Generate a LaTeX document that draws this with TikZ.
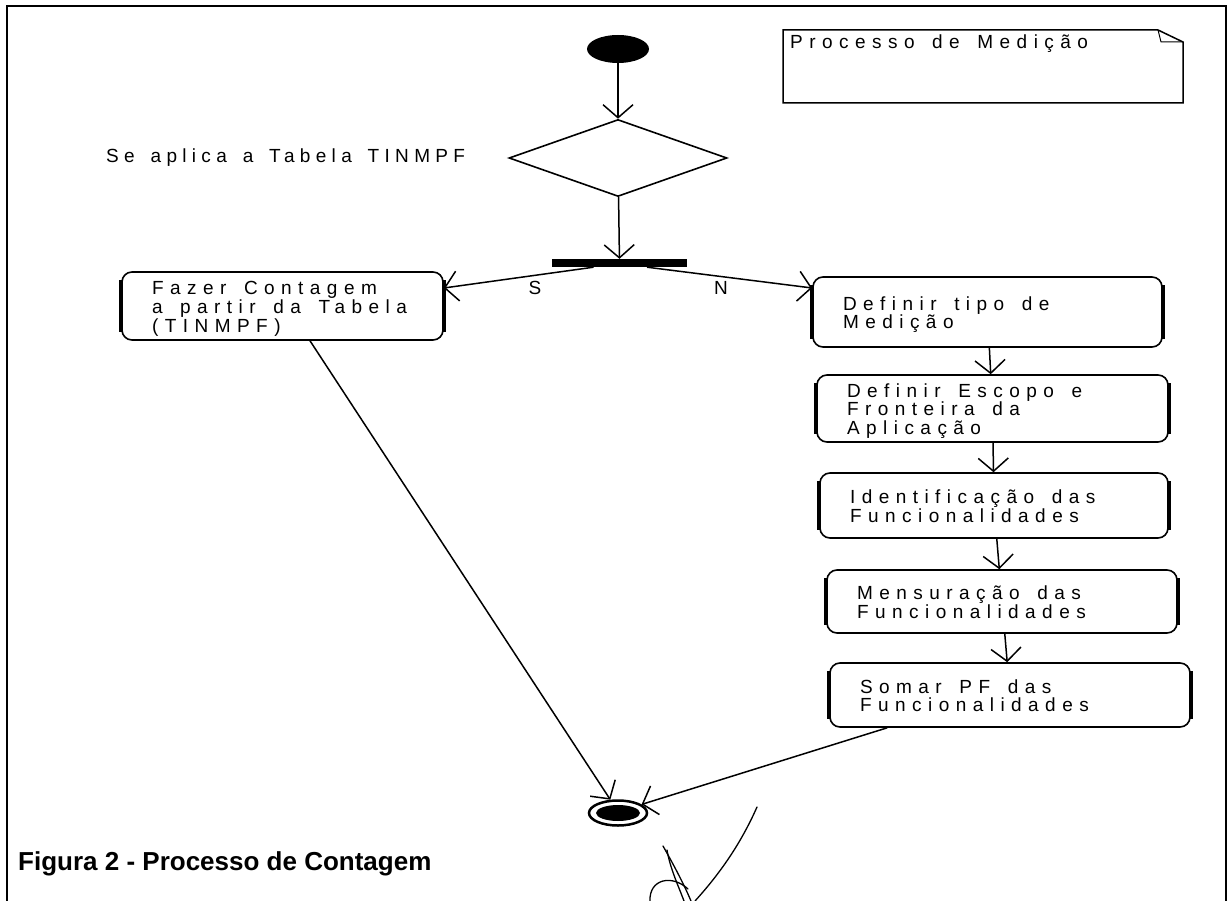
\documentclass[tikz,border=0pt]{standalone}
\usepackage{fontspec}
\setmainfont{Liberation Sans}
\newfontfamily\boxfont{Liberation Sans}[LetterSpace=34, WordSpace=1.5]
\newfontfamily\lblfont{Liberation Sans}[LetterSpace=28, WordSpace=1.5]
\usetikzlibrary{shapes.geometric, arrows.meta, positioning}
\newcommand{\actlines}[1]{\spaceskip=0pt\xspaceskip=0pt\relax\begin{tabular}{@{}l@{}}\rule{0pt}{20pt}#1\end{tabular}}

\begin{document}
\begin{tikzpicture}[x=1pt, y=-1pt, >={Straight Barb[length=13pt,width=30pt]},
  actbox/.style={draw, line width=1.6pt, rounded corners=10pt, align=left, inner xsep=30pt, inner ysep=0pt, font=\boxfont\fontsize{19}{17}\selectfont},
  flow/.style={->, line width=1.5pt},
  sideline/.style={line width=4pt},
  lbl/.style={inner sep=0pt, font=\boxfont\fontsize{19}{19}\selectfont},
  sig/.style={line width=1.3pt, line cap=round}]
\useasboundingbox (0,0) rectangle (1228,901);
\draw[line width=2pt] (7,901) -- (7,6) -- (1226,6) -- (1226,901);
% nota
\draw[line width=1.5pt] (783,30) -- (1158,30) -- (1183,42) -- (1183,103) -- (783,103) -- cycle;
\draw[line width=1pt] (1158,30) -- (1161,42) -- (1183,42);
\node[lbl, anchor=base west] (nota) at (790,49) {Processo de Medição};
% inicio e decisao
\node[ellipse, fill=black, minimum width=62pt, minimum height=28pt, inner sep=0pt] (ini) at (618,49) {};
\node[diamond, draw, line width=1.6pt, minimum width=218pt, minimum height=77pt, inner sep=0pt] (dec) at (618,158) {};
\node[inner sep=0pt, anchor=base west, font=\lblfont\fontsize{19}{19}\selectfont] (declbl) at (106,163) {Se aplica a Tabela TINMPF};
\node[fill=black, minimum width=135pt, minimum height=8pt, inner sep=0pt] (bar) at (619.5,263) {};
% atividades
\node[actbox, text width=261pt, minimum height=68pt] (cont) at (282.5,306) {\actlines{Fazer Contagem\\a partir da Tabela\\(TINMPF)}};
\node[actbox, text width=289pt, minimum height=70pt] (b1) at (987.5,312) {\actlines{Definir tipo de\\Medição}};
\node[actbox, text width=291pt, minimum height=67pt] (b2) at (992.5,408.5) {\actlines{Definir Escopo e\\Fronteira da\\Aplicação}};
\node[actbox, text width=288pt, minimum height=65pt] (b3) at (994,505.5) {\actlines{Identificação das\\Funcionalidades}};
\node[actbox, text width=290pt, minimum height=63pt] (b4) at (1002,601.5) {\actlines{Mensuração das\\Funcionalidades}};
\node[actbox, text width=300pt, minimum height=64pt] (b5) at (1010,695) {\actlines{Somar PF das\\Funcionalidades}};
\foreach \n in {cont,b1,b2,b3,b4,b5}
  \draw[sideline] ([yshift=-9pt]\n.north west) -- ([yshift=9pt]\n.south west)
    ([yshift=-9pt]\n.north east) -- ([yshift=9pt]\n.south east);
% fim
\node[ellipse, draw, line width=2.5pt, minimum width=58pt, minimum height=25pt, inner sep=0pt] (fin) at (618,813) {};
\node[ellipse, fill=black, minimum width=44pt, minimum height=16pt, inner sep=0pt] (finin) at (fin) {};
% fluxos
\draw[flow] (ini) -- (dec);
\draw[flow] (dec) -- (bar);
\draw[flow] ([xshift=-26pt]bar.south) -- ([yshift=18pt]cont.east);
\draw[flow] ([xshift=27.5pt]bar.south) -- ([yshift=24pt]b1.west);
\node[lbl] (s) at (535,288) {S};
\node[lbl] (n) at (721,288) {N};
\draw[flow] (b1) -- (b2); \draw[flow] (b2) -- (b3); \draw[flow] (b3) -- (b4); \draw[flow] (b4) -- (b5);
\draw[flow] ([xshift=27.5pt]cont.south) -- (fin.120);
\draw[flow] ([xshift=58pt]b5.south west) -- (fin.20);
% legenda
\node[inner sep=0pt, anchor=base west, font=\bfseries\fontsize{26}{26}\selectfont] (fig) at (18,870) {Figura 2 - Processo de Contagem};
% rubrica
\draw[sig] (757,807) .. controls (738,850) and (714,880) .. (695,901);
\draw[sig] (663,846) .. controls (672,862) and (683,882) .. (691,901);
\draw[sig] (667,850) .. controls (670,868) and (678,885) .. (684,901);
\draw[sig] (688,889) .. controls (672,874) and (649,879) .. (650,901);
\end{tikzpicture}
\end{document}
